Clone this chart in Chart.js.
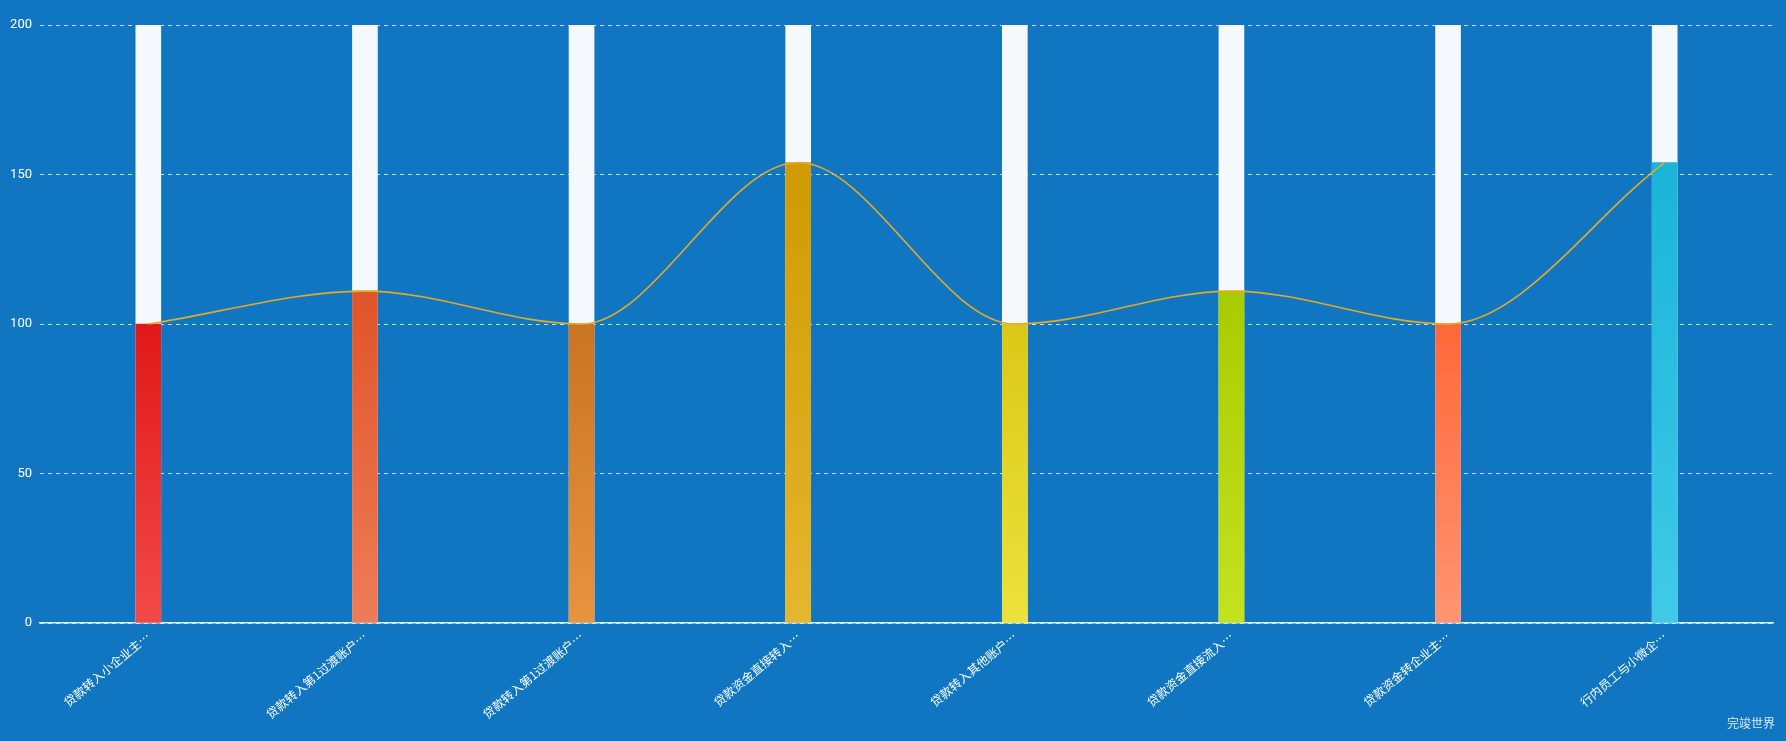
<!DOCTYPE html>
<html>
<head>
<meta charset="utf-8">
<script src="https://cdn.jsdelivr.net/npm/chart.js@4.4.0/dist/chart.umd.min.js"></script>
<style>
  html, body { margin: 0; padding: 0; background: #1176c1; }
  #wrap { position: relative; width: 1786px; height: 741px; }
  #note {
    position: absolute; right: 11px; bottom: 10px;
    color: rgba(255,255,255,0.85); font: 12px "Noto Sans CJK SC", sans-serif;
  }
</style>
</head>
<body>
<div id="wrap">
  <canvas id="myChart" width="1786" height="741"></canvas>
  <div id="note">完竣世界</div>
</div>
<script>
// chart data
const categories = ['贷款转入小企业主…', '贷款转入第1过渡账户…', '贷款转入第1过渡账户…', '贷款资金直接转入…',
  '贷款转入其他账户…', '贷款资金直接流入…', '贷款资金转企业主…', '行内员工与小微企…']
const values = [100, 111, 100, 154, 100, 111, 100, 154]
const backValues = [200, 200, 200, 200, 200, 200, 200, 200]
const yTicks = [0, 50, 100, 150, 200]

// top / bottom colour of each bar
const topColors = ['#e01818', '#e0542a', '#c97420', '#cf9a02', '#dac818', '#a8cc00', '#ff6838', '#1ab4d8']
const bottomColors = ['#f24a48', '#ee7c58', '#e8943e', '#e6b62c', '#ece23a', '#c4e21e', '#ff9472', '#40cae8']

function barGradient(context) {
  const chart = context.chart
  const i = context.dataIndex
  if (!chart.chartArea || i === undefined) return topColors[0]
  const y = chart.scales.y
  const g = chart.ctx.createLinearGradient(0, y.getPixelForValue(values[i]), 0, y.getPixelForValue(0))
  g.addColorStop(0, topColors[i])
  g.addColorStop(1, bottomColors[i])
  return g
}

var ctx = document.getElementById('myChart').getContext('2d')

var myChart = new Chart(ctx, {
  data: {
    labels: categories,
    datasets: [
      {
        type: 'line',
        data: values,
        borderColor: '#e3aa26',
        borderWidth: 1.6,
        pointRadius: 0,
        cubicInterpolationMode: 'monotone',
        order: 0
      },
      {
        type: 'bar',
        data: values,
        backgroundColor: barGradient,
        barThickness: 25,
        grouped: false,
        order: 1
      },
      {
        type: 'bar',
        data: backValues,
        backgroundColor: '#f5f8fc',
        barThickness: 25,
        grouped: false,
        order: 2
      }
    ]
  },
  options: {
    responsive: false,
    animation: false,
    layout: { padding: { top: 25, right: 13, left: 0, bottom: 0 } },
    plugins: {
      legend: { display: false },
      tooltip: { enabled: false }
    },
    scales: {
      x: {
        grid: { display: false, drawTicks: false },
        border: { display: true, color: '#e6eef6', width: 1.5 },
        ticks: {
          color: '#ffffff',
          autoSkip: false,
          maxRotation: 40,
          minRotation: 40,
          padding: 6,
          font: { size: 12, family: '"Noto Sans CJK SC", sans-serif' }
        },
        afterFit: function (scale) { scale.height = 118 }
      },
      y: {
        min: 0,
        max: 200,
        afterBuildTicks: function (scale) { scale.ticks = yTicks.map(v => ({ value: v })) },
        grid: { color: 'rgba(255,255,255,0.75)', drawTicks: false, tickBorderDash: [4, 4] },
        border: { display: false, dash: [4, 4] },
        ticks: {
          color: '#ffffff',
          padding: 8,
          font: { size: 13, family: 'Roboto, sans-serif' }
        },
        afterFit: function (scale) { scale.width = 40 }
      }
    }
  }
})

myChart.update()
</script>
</body>
</html>
